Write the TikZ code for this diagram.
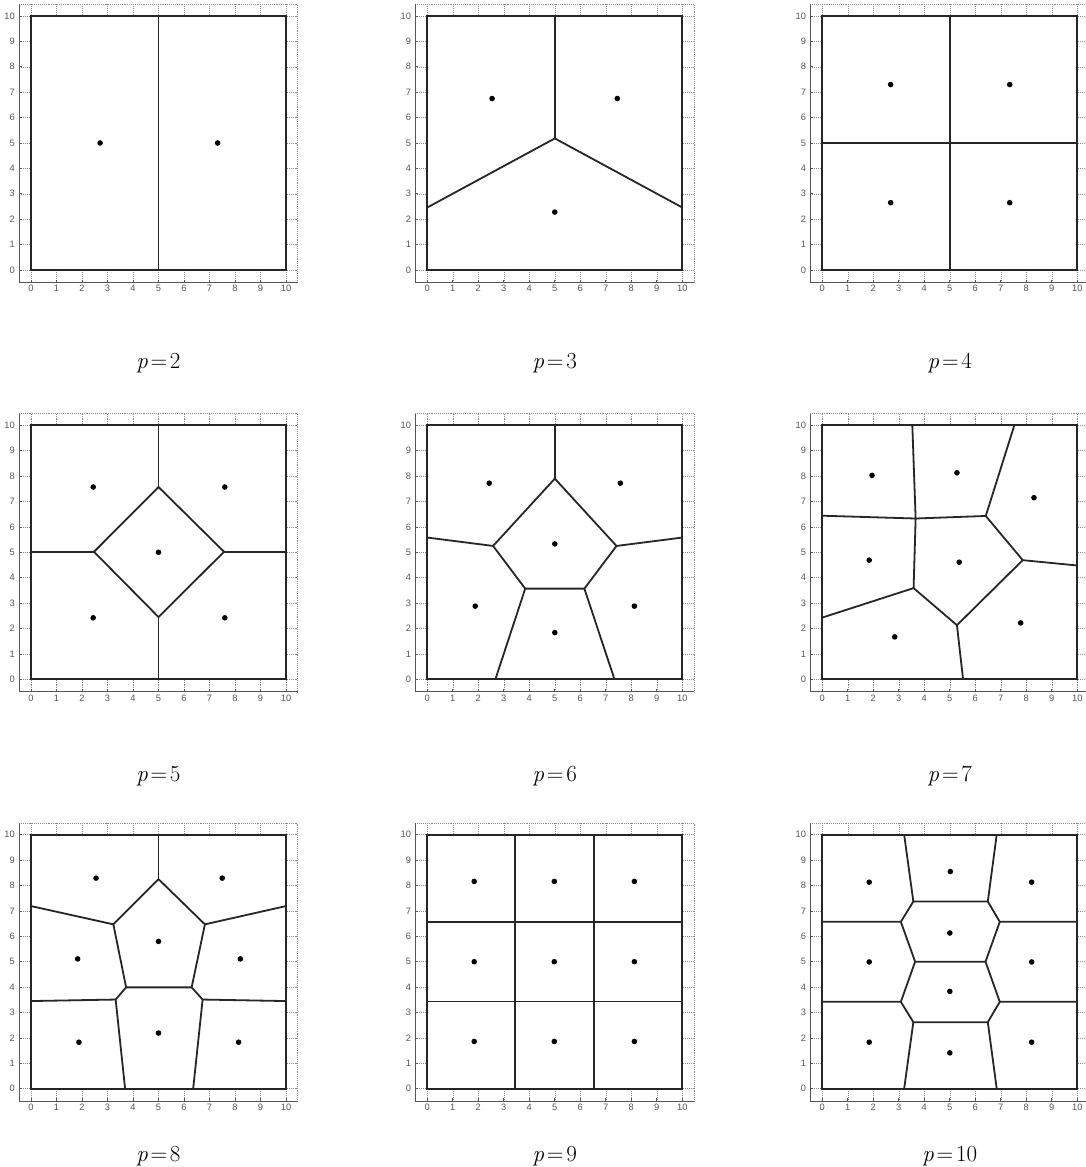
\documentclass[tikz,border=0pt]{standalone}
\usepackage{fontspec}
\newfontfamily\tickfont{Liberation Sans}
\definecolor{axgray}{HTML}{555555}
\definecolor{gridgray}{HTML}{8A8A8A}
\tikzset{
  gridline/.style={gridgray, line width=0.55pt, dash pattern=on 0.8pt off 1.1pt},
  axisline/.style={axgray, line width=1pt},
  ticklab/.style={text=axgray, inner sep=0pt, font=\tickfont\fontsize{9.3}{10}\selectfont},
  region/.style={fill=white, draw=black!85, line width=2.3pt},
  vedge/.style={draw=black!85, line width=1.8pt, line join=round},
  site/.style={fill=black},
  plabel/.style={anchor=base, inner sep=0pt, font=\fontsize{23}{26}\selectfont}
}
\newcommand\plab[1]{\textit{p}\hspace{.12em}=\hspace{.12em}#1}
\newcommand\voraxes{%
  \foreach \i in {0,...,10} {
    \draw[gridline] (\i,-0.5) -- (\i,10.46);
    \draw[gridline] (-0.47,\i) -- (10.46,\i);
    \draw[axisline, line width=0.7pt] (\i,-0.5) -- (\i,-0.38);
    \draw[axisline, line width=0.7pt] (-0.47,\i) -- (-0.35,\i);
    \node[ticklab, anchor=north] at (\i,-0.6) {\i};
    \node[ticklab, anchor=east] at (-0.63,\i) {\i};
  }
  \draw[gridline] (-0.47,10.46) -- (10.46,10.46) -- (10.46,-0.5);
  \draw[axisline] (-0.47,10.46) -- (-0.47,-0.5) -- (10.46,-0.5);
  \draw[region] (0,0) rectangle (10,10);
}
\newcommand\sites[1]{\foreach \a/\b in {#1} {\fill[site] (\a,\b) circle[radius=2.8pt];}}
\begin{document}
\begin{tikzpicture}[x=1pt,y=1pt]
\useasboundingbox[fill=white] (0,0) rectangle (1085,1167);

% ---------- p=2 ----------
\begin{scope}[shift={(31pt,897pt)}, x=25.5pt, y=25.4pt]
  \voraxes
  \draw[vedge] (5,0) -- (5,10);
  \draw[region, fill=none] (0,0) rectangle (10,10);
  \sites{2.71/5, 7.32/5}
  \node[plabel] (l2) at (5,-3.86) {\plab{2}};
\end{scope}

% ---------- p=3 ----------
\begin{scope}[shift={(427.3pt,897pt)}, x=25.5pt, y=25.4pt]
  \voraxes
  \draw[vedge] (5,10) -- (5,5.18);
  \draw[vedge] (0,2.46) -- (5,5.18) -- (10,2.46);
  \draw[region, fill=none] (0,0) rectangle (10,10);
  \sites{2.54/6.75, 7.45/6.75, 5/2.28}
  \node[plabel] (l3) at (5,-3.86) {\plab{3}};
\end{scope}

% ---------- p=4 ----------
\begin{scope}[shift={(822.3pt,897pt)}, x=25.5pt, y=25.4pt]
  \voraxes
  \draw[vedge] (5,0) -- (5,10);
  \draw[vedge] (0,5) -- (10,5);
  \draw[region, fill=none] (0,0) rectangle (10,10);
  \sites{2.68/7.3, 7.35/7.3, 2.68/2.65, 7.35/2.65}
  \node[plabel] (l4) at (5,-3.86) {\plab{4}};
\end{scope}

% ---------- p=5 ----------
\begin{scope}[shift={(31pt,487.7pt)}, x=25.5pt, y=25.4pt]
  \voraxes
  \draw[vedge] (5,7.57) -- (7.57,5.02) -- (5,2.45) -- (2.47,5.02) -- cycle;
  \draw[vedge] (5,10) -- (5,7.57);
  \draw[vedge] (5,0) -- (5,2.45);
  \draw[vedge] (0,5.02) -- (2.47,5.02);
  \draw[vedge] (7.57,5.02) -- (10,5.02);
  \draw[region, fill=none] (0,0) rectangle (10,10);
  \sites{2.44/7.57, 7.6/7.57, 5/5.0, 2.44/2.42, 7.6/2.42}
  \node[plabel] (l5) at (5,-4.04) {\plab{5}};
\end{scope}

% ---------- p=6 ----------
\begin{scope}[shift={(427.3pt,487.7pt)}, x=25.5pt, y=25.4pt]
  \voraxes
  \draw[vedge] (5,7.9) -- (7.42,5.25) -- (6.16,3.57) -- (3.84,3.57) -- (2.58,5.25) -- cycle;
  \draw[vedge] (5,10) -- (5,7.9);
  \draw[vedge] (0,5.58) -- (2.58,5.25);
  \draw[vedge] (7.42,5.25) -- (10,5.58);
  \draw[vedge] (3.84,3.57) -- (2.67,0);
  \draw[vedge] (6.16,3.57) -- (7.34,0);
  \draw[region, fill=none] (0,0) rectangle (10,10);
  \sites{2.43/7.72, 7.57/7.72, 5/5.33, 1.88/2.88, 8.12/2.88, 5/1.84}
  \node[plabel] (l6) at (5,-4.04) {\plab{6}};
\end{scope}

% ---------- p=7 ----------
\begin{scope}[shift={(822.3pt,487.7pt)}, x=25.5pt, y=25.4pt]
  \voraxes
  \draw[vedge] (3.53,10) -- (3.66,6.33);
  \draw[vedge] (0,6.44) -- (3.66,6.33) -- (6.41,6.43);
  \draw[vedge] (6.41,6.43) -- (7.53,10);
  \draw[vedge] (6.41,6.43) -- (7.86,4.69) -- (10,4.48);
  \draw[vedge] (3.66,6.33) -- (3.58,3.59);
  \draw[vedge] (0,2.43) -- (3.58,3.59) -- (5.28,2.13) -- (7.86,4.69);
  \draw[vedge] (5.28,2.13) -- (5.52,0);
  \draw[region, fill=none] (0,0) rectangle (10,10);
  \sites{1.95/8.03, 5.28/8.13, 8.30/7.15, 1.84/4.69, 5.37/4.61, 2.84/1.67, 7.78/2.22}
  \node[plabel] (l7) at (5,-4.04) {\plab{7}};
\end{scope}

% ---------- p=8 ----------
\begin{scope}[shift={(31pt,78.3pt)}, x=25.5pt, y=25.4pt]
  \voraxes
  \draw[vedge] (5,10) -- (5,8.25);
  \draw[vedge] (5,8.25) -- (3.23,6.47) -- (3.73,3.99) -- (6.30,3.99) -- (6.82,6.47) -- cycle;
  \draw[vedge] (0,7.19) -- (3.23,6.47);
  \draw[vedge] (6.82,6.47) -- (10,7.19);
  \draw[vedge] (3.73,3.99) -- (3.32,3.51);
  \draw[vedge] (6.30,3.99) -- (6.73,3.51);
  \draw[vedge] (0,3.45) -- (3.32,3.51) -- (3.69,0);
  \draw[vedge] (10,3.45) -- (6.73,3.51) -- (6.36,0);
  \draw[region, fill=none] (0,0) rectangle (10,10);
  \sites{2.55/8.29, 7.50/8.29, 5/5.80, 1.83/5.11, 8.21/5.11, 1.88/1.83, 5/2.19, 8.14/1.83}
  \node[plabel] (l8) at (5,-2.85) {\plab{8}};
\end{scope}

% ---------- p=9 ----------
\begin{scope}[shift={(427.3pt,78.3pt)}, x=25.5pt, y=25.4pt]
  \voraxes
  \draw[vedge] (3.44,0) -- (3.44,10);
  \draw[vedge] (6.55,0) -- (6.55,10);
  \draw[vedge] (0,6.56) -- (10,6.56);
  \draw[vedge] (0,3.43) -- (10,3.43);
  \draw[region, fill=none] (0,0) rectangle (10,10);
  \sites{1.84/8.16, 4.98/8.16, 8.12/8.16, 1.84/5.0, 4.98/5.0, 8.12/5.0, 1.84/1.86, 4.98/1.86, 8.12/1.86}
  \node[plabel] (l9) at (5,-2.85) {\plab{9}};
\end{scope}

% ---------- p=10 ----------
\begin{scope}[shift={(822.3pt,78.3pt)}, x=25.5pt, y=25.4pt]
  \voraxes
  \draw[vedge] (3.21,10) -- (3.57,7.37) -- (6.49,7.37) -- (6.84,10);
  \draw[vedge] (0,6.57) -- (3.08,6.57) -- (3.57,7.37);
  \draw[vedge] (6.49,7.37) -- (6.96,6.57) -- (10,6.57);
  \draw[vedge] (3.08,6.57) -- (3.64,5.0) -- (6.40,5.0) -- (6.96,6.57);
  \draw[vedge] (3.64,5.0) -- (3.08,3.42) -- (0,3.42);
  \draw[vedge] (6.40,5.0) -- (6.96,3.42) -- (10,3.42);
  \draw[vedge] (3.08,3.42) -- (3.57,2.62) -- (6.49,2.62) -- (6.96,3.42);
  \draw[vedge] (3.57,2.62) -- (3.21,0);
  \draw[vedge] (6.49,2.62) -- (6.84,0);
  \draw[region, fill=none] (0,0) rectangle (10,10);
  \sites{1.84/8.13, 5.02/8.55, 8.21/8.13, 5/6.13, 1.84/4.99, 8.21/4.99, 5/3.83, 1.84/1.83, 5/1.41, 8.21/1.83}
  \node[plabel] (l10) at (5,-2.85) {\plab{10}};
\end{scope}
\end{tikzpicture}
\end{document}
